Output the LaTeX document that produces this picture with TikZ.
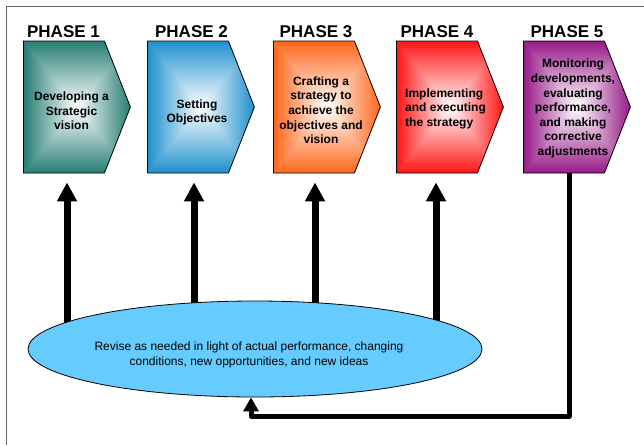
\documentclass[tikz,border=0pt]{standalone}
\usepackage{fontspec}
\setmainfont{Liberation Sans}
\usetikzlibrary{shapes.geometric,shapes.symbols,arrows.meta,backgrounds}

\definecolor{phaseteal}{RGB}{38,125,115}
\definecolor{phaseblue}{RGB}{30,144,204}
\definecolor{phaseorange}{RGB}{255,102,26}
\definecolor{phasered}{RGB}{255,20,20}
\definecolor{phasepurple}{RGB}{150,25,135}
\definecolor{revisefill}{RGB}{102,204,255}
\definecolor{framegray}{RGB}{100,100,100}

% bevelled "from centre" gradient: four triangles meeting at the middle
\newcommand\bevelshade[1]{%
  \coordinate (bNW) at (path picture bounding box.north west);
  \coordinate (bNE) at (path picture bounding box.north east);
  \coordinate (bSW) at (path picture bounding box.south west);
  \coordinate (bSE) at (path picture bounding box.south east);
  \coordinate (bC)  at (path picture bounding box.center);
  \fill[#1!60] (bNW) rectangle (bSE);
  \shade[top color=#1, middle color=#1!68, bottom color=white]   (bNW) -- (bNE) -- (bC) -- cycle;
  \shade[bottom color=#1, middle color=#1!68, top color=white]   (bSW) -- (bSE) -- (bC) -- cycle;
  \shade[left color=#1, middle color=#1!68, right color=white]   (bNW) -- (bSW) -- (bC) -- cycle;
  \shade[right color=#1, middle color=#1!68, left color=white]   (bNE) -- (bSE) -- (bC) -- cycle;
}

\tikzset{
  phasebox/.style={shape=signal, signal to=east, signal pointer angle=137,
    minimum width=107pt, minimum height=132pt, inner sep=0pt,
    draw=black, line width=0.8pt, anchor=west,
    path picture={\bevelshade{#1}}},
  phaselabel/.style={anchor=base, inner sep=0pt,
    font=\fontsize{17}{20}\selectfont\bfseries},
  boxtext/.style={inner sep=0pt, align=center,
    font=\fontsize{12}{14.6}\selectfont\bfseries},
  revise/.style={shape=ellipse, draw=black, line width=0.8pt, fill=revisefill,
    minimum width=454pt, minimum height=96pt, inner sep=0pt},
  revisetext/.style={inner sep=0pt, align=center, anchor=north,
    font=\fontsize{12}{15}\selectfont},
  uparrow/.style={line width=7pt, -{Triangle[width=19pt,length=19pt]}, shorten >=9pt},
  loopline/.style={line width=5pt, line join=round, -{Triangle[width=15pt,length=14pt]}},
  framerule/.style={draw=framegray, line width=1pt}
}

\begin{document}
\begin{tikzpicture}[x=1pt, y=-1pt]
  \useasboundingbox (0,0) rectangle (644,445);

  % phase headings
  \node[phaselabel] (h1) at (63.5,37.3) {PHASE 1};
  \node[phaselabel] (h2) at (191.5,37.3) {PHASE 2};
  \node[phaselabel] (h3) at (316,37.3) {PHASE 3};
  \node[phaselabel] (h4) at (437,37.3) {PHASE 4};
  \node[phaselabel] (h5) at (567,37.3) {PHASE 5};

  % phase chevrons
  \node[phasebox=phaseteal]   (p1) at (23,107)  {};
  \node[phasebox=phaseblue]   (p2) at (147,107) {};
  \node[phasebox=phaseorange] (p3) at (273,107) {};
  \node[phasebox=phasered]    (p4) at (396,107) {};
  \node[phasebox=phasepurple] (p5) at (523,107) {};

  % chevron texts
  \node[boxtext, anchor=north] (t1) at (71.5,91.8) {Developing a\\Strategic\\vision};
  \node[boxtext, anchor=north] (t2) at (197,99.2) {Setting\\Objectives};
  \node[boxtext, anchor=north] (t3) at (321,76.3) {Crafting a\\strategy to\\achieve the\\objectives and\\vision};
  \node[boxtext, anchor=north west, align=left] (t4) at (405,88.3) {Implementing\\and executing\\the strategy};
  \node[boxtext, anchor=north] (t5) at (573,59) {Monitoring\\developments,\\evaluating\\performance,\\and making\\corrective\\adjustments};

  % revision ellipse
  \node[revise] (ell) at (255,349) {};
  \node[revisetext] (rt) at (249,341.2) {Revise as needed in light of actual performance, changing\\conditions, new opportunities, and new ideas};

  % arrow columns and loop-back level
  \coordinate (a1) at (67,0);
  \coordinate (a2) at (194,0);
  \coordinate (a3) at (315,0);
  \coordinate (a4) at (436,0);
  \coordinate (a5) at (569,0);
  \coordinate (fb) at (0,416);

  \begin{scope}[on background layer]
    \draw[framerule] (6,445) -- (6,6) -- (644,6);
    \draw[uparrow] (a1 |- ell.center) -- (a1 |- p1.south);
    \draw[uparrow] (a2 |- ell.center) -- (a2 |- p2.south);
    \draw[uparrow] (a3 |- ell.center) -- (a3 |- p3.south);
    \draw[uparrow] (a4 |- ell.center) -- (a4 |- p4.south);
  \end{scope}

  % monitoring feeds back into revision
  \draw[loopline] (a5 |- p5.south) -- (a5 |- fb) -| ([xshift=-4pt]ell.south);
\end{tikzpicture}
\end{document}
